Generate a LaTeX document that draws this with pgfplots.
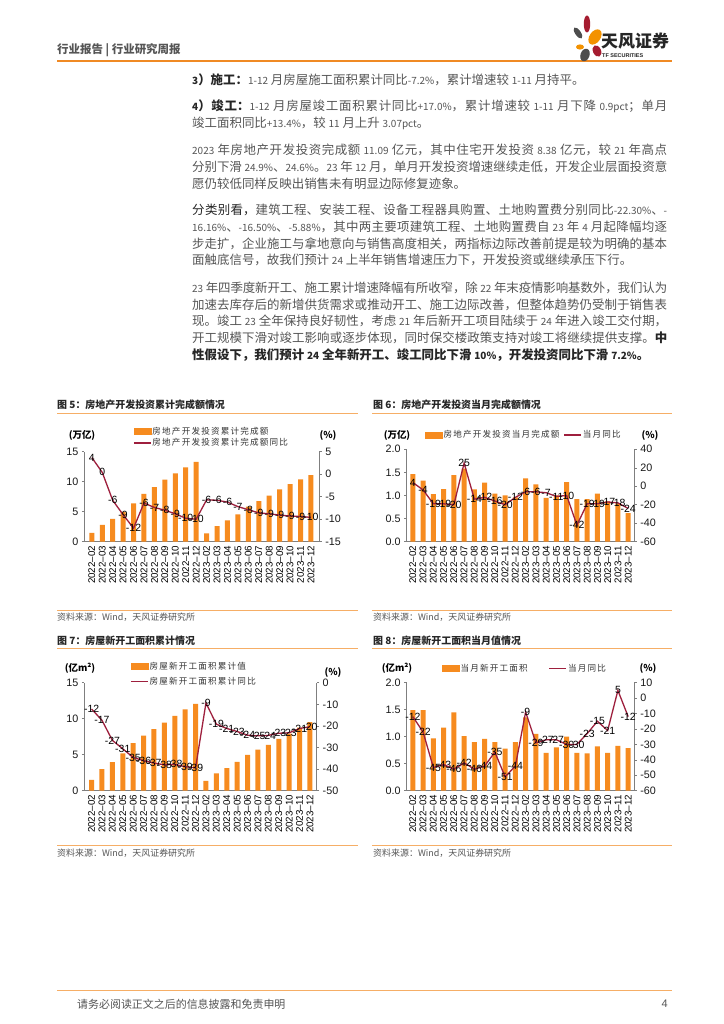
\documentclass[border=0pt]{standalone}
\usepackage{pgfplots}
\pgfplotsset{compat=1.18}
\usepackage{pgfplotstable}
\usepackage{fontspec}
\setmainfont{Liberation Sans}
\newfontfamily\cjk{Noto Sans CJK SC}
\newfontfamily\cjkleg[LetterSpace=14]{Noto Sans CJK SC}
\XeTeXlinebreaklocale "zh"
\XeTeXlinebreakskip=0pt plus 1.5pt minus 0.4pt

\definecolor{barc}{HTML}{F68B1F}
\definecolor{linec}{HTML}{9E1F3D}
\definecolor{hdrline}{HTML}{F08A24}
\definecolor{capline}{HTML}{F6AE66}
\definecolor{txt}{HTML}{555555}
\definecolor{txtd}{HTML}{262626}
\definecolor{axc}{HTML}{7F7F7F}
\definecolor{logored}{HTML}{A51C30}
\definecolor{logoorange}{HTML}{F39200}
\definecolor{logogray}{HTML}{4D4D4D}

% latin runs inside the body text are set smaller, as in the report
\newcommand\nn[1]{{\fontsize{10}{12}\selectfont #1}}

\pgfplotsset{
  months/.style={xtick={0,...,21},
    xticklabels={2022–02,2022–03,2022–04,2022–05,2022–06,2022–07,2022–08,2022–09,2022–10,2022–11,2022–12,
                 2023–02,2023–03,2023–04,2023–05,2023–06,2023–07,2023–08,2023–09,2023–10,2023–11,2023–12}},
  common/.style={scale only axis, /pgf/number format/assume math mode=true,
    axis line style={axc, line width=0.6bp}, tick style={axc, line width=0.5bp},
    tick align=outside, major tick length=2.5bp,
    y tick label style={font=\fontsize{10.8}{11}\selectfont, text=black!90}},
  barax/.style={common, months, axis x line*=bottom, axis y line*=left,
    ybar, bar width=5bp, xtick style={draw=none},
    x tick label style={rotate=90, anchor=east, font=\fontsize{9.8}{10}\selectfont, inner sep=1.5bp}},
  lineax/.style={common, axis x line=none, axis y line*=right,
    legend cell align=left,
    legend style={draw=none, fill=none, inner sep=0pt,
      font=\cjkleg\fontsize{8.6}{9}\selectfont, text=black!80, nodes={inner sep=1bp}},
    nodes near coords={\pgfmathprintnumber[fixed,precision=0]{\pgfplotspointmeta}},
    every node near coord/.append style={anchor=center, font=\fontsize{10.5}{10}\selectfont,
      text=black, inner sep=0pt}},
  barleg/.style={legend image code/.code={\fill[barc] (0bp,-3bp) rectangle (17bp,3bp);}},
}

\begin{document}
% cumulative investment (trillion yuan) and yoy
\pgfplotstableread{
x b r
0 1.45 3.7
1 2.79 0.4
2 3.82 -5.8
3 4.96 -9
4 6.40 -12
5 7.95 -6.4
6 9.08 -7.4
7 10.36 -8
8 11.39 -8.8
9 12.39 -9.8
10 13.29 -10
11 1.37 -5.7
12 2.60 -5.8
13 3.55 -6.2
14 4.57 -7.2
15 5.86 -7.9
16 6.77 -8.6
17 7.69 -8.8
18 8.73 -9.1
19 9.59 -9.3
20 10.40 -9.4
21 11.09 -9.6
}\tA
% monthly investment
\pgfplotstableread{
x b r
0 1.46 4
1 1.32 -4
2 1.03 -19
3 1.14 -19
4 1.44 -20
5 1.58 25
6 1.13 -14
7 1.28 -12
8 1.04 -16
9 1.00 -20
10 0.96 -12
11 1.37 -6
12 1.24 -6
13 0.95 -7
14 1.00 -11
15 1.29 -10
16 0.92 -42
17 0.92 -19
18 1.04 -19
19 0.87 -17
20 0.83 -18
21 0.62 -24
}\tB
% cumulative new starts (100m m2)
\pgfplotstableread{
x b r
0 1.50 -12.2
1 2.98 -17.4
2 3.98 -26.7
3 5.17 -30.6
4 6.61 -34.6
5 7.64 -36.1
6 8.54 -37.2
7 9.46 -38.0
8 10.39 -37.8
9 11.29 -38.9
10 12.06 -39.4
11 1.36 -9.4
12 2.41 -19.2
13 3.12 -21.2
14 3.99 -22.6
15 4.99 -24.3
16 5.69 -24.6
17 6.38 -24.4
18 7.21 -23.4
19 7.92 -23.2
20 8.75 -21.2
21 9.54 -20.4
}\tC
% monthly new starts
\pgfplotstableread{
x b r
0 1.49 -12
1 1.49 -22
2 0.97 -45
3 1.17 -43
4 1.45 -46
5 1.01 -42
6 0.90 -46
7 0.96 -44
8 0.90 -35
9 0.78 -51
10 0.90 -44
11 1.36 -9
12 1.05 -29
13 0.70 -27
14 0.80 -27
15 1.00 -30
16 0.70 -30
17 0.69 -23
18 0.82 -15
19 0.70 -21
20 0.83 5
21 0.79 -12
}\tD
\begin{tikzpicture}[x=1bp,y=1bp]
\fill[white] (0,0) rectangle (724,1024);
\useasboundingbox (0,0) rectangle (724,1024);

% ---- page furniture, in image coordinates (y down)
\begin{scope}[shift={(0,1024)}, yscale=-1]
  \node[anchor=west, inner sep=0, text=txt, font=\cjk\bfseries\fontsize{11.5}{12}\selectfont] at (57,50) {行业报告 | 行业研究周报};
  \draw[hdrline, line width=1.8bp] (57,61) -- (672,61);
  % logo
  \fill[logogray, rotate around={-35:(578,33)}] (578,33) ellipse (2.8 and 6.5);
  \fill[logored] (587,24) ellipse (3.2 and 8.5);
  \fill[logoorange, rotate around={35:(595,37)}] (595,37) ellipse (5.5 and 8.5);
  \fill[logoorange] (580,47) ellipse (4 and 2.6);
  \fill[logored, rotate around={-25:(597,51)}] (597,51) ellipse (4 and 6);
  \fill[logogray, rotate around={20:(585,55)}] (585,55) ellipse (4.5 and 6.5);
  \node[anchor=west, inner sep=0, text=black!85, font=\cjk\bfseries\fontsize{17}{17}\selectfont] at (601,41) {天风证券};
  \node[anchor=west, inner sep=0, text=black!85, font=\bfseries\fontsize{5.5}{6}\selectfont] at (602,56) {TF SECURITIES};

  % body text: first-line centre minus 6.9
  \tikzset{bodypara/.style={anchor=north west, inner sep=0, text width=475bp, align=justify,
      text=txt, font=\cjk\fontsize{12.5}{16.7}\selectfont}}
  \node[bodypara] at (192,72.4) {\noindent\rule{0pt}{11.5bp}{\bfseries\color{txtd}\nn{3}）施工：}\nn{1-12} 月房屋施工面积累计同比\nn{-7.2\%}，累计增速较 \nn{1-11} 月持平。};
  \node[bodypara] at (192,99.1) {\noindent\rule{0pt}{11.5bp}{\bfseries\color{txtd}\nn{4}）竣工：}\nn{1-12} 月房屋竣工面积累计同比\nn{+17.0\%}，累计增速较 \nn{1-11} 月下降 \nn{0.9pct}；单月\linebreak 竣工面积同比\nn{+13.4\%}，较 \nn{11} 月上升 \nn{3.07pct}。};
  \node[bodypara] at (192,143.1) {\noindent\rule{0pt}{11.5bp}\nn{2023} 年房地产开发投资完成额 \nn{11.09} 亿元，其中住宅开发投资 \nn{8.38} 亿元，较 \nn{21} 年高点\linebreak 分别下滑 \nn{24.9\%}、\nn{24.6\%}。\nn{23} 年 \nn{12} 月，单月开发投资增速继续走低，开发企业层面投资意\linebreak 愿仍较低同样反映出销售未有明显边际修复迹象。};
  \node[bodypara] at (192,203.1) {\noindent\rule{0pt}{11.5bp}{\color{txtd}分类别看，}建筑工程、安装工程、设备工程器具购置、土地购置费分别同比\nn{-22.30\%}、\nn{-}\linebreak \nn{16.16\%}、\nn{-16.50\%}、\nn{-5.88\%}，其中两主要项建筑工程、土地购置费自 \nn{23} 年 \nn{4} 月起降幅均逐\linebreak 步走扩，企业施工与拿地意向与销售高度相关，两指标边际改善前提是较为明确的基本\linebreak 面触底信号，故我们预计 \nn{24} 上半年销售增速压力下，开发投资或继续承压下行。};
  \node[bodypara] at (192,280.8) {\noindent\rule{0pt}{11.5bp}\nn{23} 年四季度新开工、施工累计增速降幅有所收窄，除 \nn{22} 年末疫情影响基数外，我们认为\linebreak 加速去库存后的新增供货需求或推动开工、施工边际改善，但整体趋势仍受制于销售表\linebreak 现。竣工 \nn{23} 全年保持良好韧性，考虑 \nn{21} 年后新开工项目陆续于 \nn{24} 年进入竣工交付期，\linebreak 开工规模下滑对竣工影响或逐步体现，同时保交楼政策支持对竣工将继续提供支撑。{\bfseries\color{txtd}中}\linebreak {\bfseries\color{txtd}性假设下，我们预计 \nn{24} 全年新开工、竣工同比下滑 \nn{10\%}，开发投资同比下滑 \nn{7.2\%}。}};

  % captions, rules, sources
  \tikzset{figcap/.style={anchor=west, inner sep=0, text=txtd, font=\cjk\bfseries\fontsize{10}{10}\selectfont},
           figsrc/.style={anchor=west, inner sep=0, text=txt, font=\cjk\fontsize{9}{9}\selectfont},
           figunit/.style={inner sep=0, text=black, font=\cjk\bfseries\fontsize{9.5}{10}\selectfont}}
  \node[figcap] at (57,405) {图 5：房地产开发投资累计完成额情况};
  \node[figcap] at (373,405) {图 6：房地产开发投资当月完成额情况};
  \node[figcap] at (57,641) {图 7：房屋新开工面积累计情况};
  \node[figcap] at (373,641) {图 8：房屋新开工面积当月值情况};
  \foreach \y in {413,610,648,845} {
    \draw[capline, line width=0.8bp] (57,\y) -- (358,\y);
    \draw[capline, line width=0.8bp] (372,\y) -- (672,\y);
  }
  \node[figsrc] at (57,617) {资料来源：Wind，天风证券研究所};
  \node[figsrc] at (373,617) {资料来源：Wind，天风证券研究所};
  \node[figsrc] at (57,853) {资料来源：Wind，天风证券研究所};
  \node[figsrc] at (373,853) {资料来源：Wind，天风证券研究所};
  \node[figunit] at (82,435) {(万亿)};
  \node[figunit] at (328,435) {(\%)};
  \node[figunit] at (397,435) {(万亿)};
  \node[figunit] at (650,435) {(\%)};
  \node[figunit] at (80,668) {(亿m²)};
  \node[figunit] at (333,672) {(\%)};
  \node[figunit] at (397,668) {(亿m²)};
  \node[figunit] at (648,668) {(\%)};

  % footer
  \draw[capline, line width=1bp] (57,991) -- (672,991);
  \node[anchor=west, inner sep=0, text=txt, font=\cjk\fontsize{11}{11}\selectfont] at (77,1004) {请务必阅读正文之后的信息披露和免责申明};
  \node[anchor=east, inner sep=0, text=txt, font=\fontsize{11}{11}\selectfont] at (668,1004) {4};
\end{scope}

% ---- chart 5
\begin{axis}[barax, at={(84.3bp,482.3bp)}, anchor=south west, width=235bp, height=90bp,
  xmin=-0.72, xmax=21.8, ymin=0, ymax=15, ytick={0,5,10,15}]
  \addplot[fill=barc, draw=none] table[x=x,y=b]{\tA};
\end{axis}
\begin{axis}[lineax, at={(84.3bp,482.3bp)}, anchor=south west, width=235bp, height=90bp,
  xmin=-0.72, xmax=21.8, ymin=-15, ymax=5, ytick={-15,-10,-5,0,5},
  legend style={at={(0.207,1)}, anchor=north west, yshift=26bp, row sep=1bp}]
  \addlegendimage{barleg}
  \addlegendentry{房地产开发投资累计完成额}
  \addplot[linec, line width=1.3bp] table[x=x,y=r]{\tA};
  \addlegendentry{房地产开发投资累计完成额同比}
\end{axis}

% ---- chart 6
\begin{axis}[barax, at={(406.7bp,482.3bp)}, anchor=south west, width=227.6bp, height=92.4bp,
  xmin=-0.6, xmax=21.6, ymin=0, ymax=2, ytick={0,0.5,1,1.5,2},
  yticklabel style={/pgf/number format/.cd, fixed, fixed zerofill, precision=1}]
  \addplot[fill=barc, draw=none] table[x=x,y=b]{\tB};
\end{axis}
\begin{axis}[lineax, at={(406.7bp,482.3bp)}, anchor=south west, width=227.6bp, height=92.4bp,
  xmin=-0.6, xmax=21.6, ymin=-60, ymax=40, ytick={-60,-40,-20,0,20,40},
  legend columns=2,
  legend style={at={(0.08,1)}, anchor=west, yshift=14.3bp,
    /tikz/every even column/.append style={column sep=3bp}}]
  \addlegendimage{barleg}
  \addlegendentry{房地产开发投资当月完成额}
  \addplot[linec, line width=1.3bp] table[x=x,y=r]{\tB};
  \addlegendentry{当月同比}
\end{axis}

% ---- chart 7
\begin{axis}[barax, at={(84.3bp,233.3bp)}, anchor=south west, width=232.4bp, height=108bp,
  xmin=-0.7, xmax=21.65, ymin=0, ymax=15, ytick={0,5,10,15}]
  \addplot[fill=barc, draw=none] table[x=x,y=b]{\tC};
\end{axis}
\begin{axis}[lineax, at={(84.3bp,233.3bp)}, anchor=south west, width=232.4bp, height=108bp,
  xmin=-0.7, xmax=21.65, ymin=-50, ymax=0, ytick={-50,-40,-30,-20,-10,0},
  legend style={at={(0.197,1)}, anchor=north west, yshift=21.7bp, row sep=4bp}]
  \addlegendimage{barleg}
  \addlegendentry{房屋新开工面积累计值}
  \addplot[linec, line width=1.3bp] table[x=x,y=r]{\tC};
  \addlegendentry{房屋新开工面积累计同比}
\end{axis}

% ---- chart 8
\begin{axis}[barax, at={(406.7bp,233.3bp)}, anchor=south west, width=227.6bp, height=108bp,
  xmin=-0.6, xmax=21.6, ymin=0, ymax=2, ytick={0,0.5,1,1.5,2},
  yticklabel style={/pgf/number format/.cd, fixed, fixed zerofill, precision=1}]
  \addplot[fill=barc, draw=none] table[x=x,y=b]{\tD};
\end{axis}
\begin{axis}[lineax, at={(406.7bp,233.3bp)}, anchor=south west, width=227.6bp, height=108bp,
  xmin=-0.6, xmax=21.6, ymin=-60, ymax=10, ytick={-60,-50,-40,-30,-20,-10,0,10},
  legend columns=2,
  legend style={at={(0.155,1)}, anchor=west, yshift=14bp,
    /tikz/every even column/.append style={column sep=20bp}}]
  \addlegendimage{barleg}
  \addlegendentry{当月新开工面积}
  \addplot[linec, line width=1.3bp] table[x=x,y=r]{\tD};
  \addlegendentry{当月同比}
\end{axis}
\end{tikzpicture}
\end{document}
